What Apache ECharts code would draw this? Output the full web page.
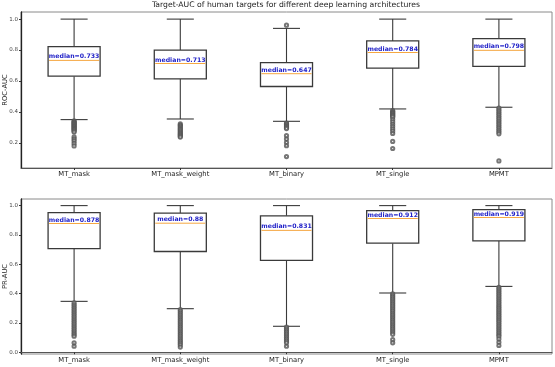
<!DOCTYPE html>
<html>
<head>
<meta charset="utf-8">
<script src="https://cdn.jsdelivr.net/npm/echarts@6/dist/echarts.min.js"></script>
<style>
  html, body { margin: 0; padding: 0; background: #fff; }
  #chart { width: 555px; height: 367px; }
</style>
</head>
<body>
<div id="chart"></div>
<script>
const categories = ['MT_mask', 'MT_mask_weight', 'MT_binary', 'MT_single', 'MPMT'];
const titleText = 'Target-AUC of human targets for different deep learning architectures';

// ROC-AUC box stats
const rocLow  = [0.350, 0.354, 0.339, 0.419, 0.430];
const rocQ1   = [0.631, 0.614, 0.564, 0.683, 0.694];
const rocMed  = [0.733, 0.713, 0.647, 0.784, 0.798];
const rocQ3   = [0.822, 0.800, 0.718, 0.859, 0.874];
const rocHigh = [1.000, 1.000, 0.940, 1.000, 1.000];

// ROC-AUC outliers per category
const rocOut = [
  [0.342, 0.337, 0.332, 0.327, 0.322, 0.317, 0.312, 0.307, 0.302, 0.297, 0.292, 0.287, 0.282, 0.276, 0.270, 0.238, 0.225, 0.212, 0.196, 0.180],
  [0.322, 0.315, 0.308, 0.300, 0.292, 0.285, 0.278, 0.270, 0.263, 0.256, 0.250, 0.243, 0.237],
  [0.961, 0.328, 0.322, 0.316, 0.310, 0.304, 0.298, 0.292, 0.246, 0.224, 0.202, 0.181, 0.111],
  [0.408, 0.402, 0.396, 0.390, 0.384, 0.378, 0.372, 0.366, 0.350, 0.335, 0.320, 0.305, 0.290, 0.275, 0.260, 0.209, 0.163],
  [0.425, 0.413, 0.401, 0.389, 0.377, 0.365, 0.353, 0.341, 0.329, 0.317, 0.305, 0.293, 0.281, 0.270, 0.258, 0.083]
];

// PR-AUC box stats
const prLow  = [0.347, 0.297, 0.177, 0.404, 0.449];
const prQ1   = [0.707, 0.687, 0.626, 0.744, 0.760];
const prMed  = [0.878, 0.88, 0.831, 0.912, 0.919];
const prQ3   = [0.952, 0.948, 0.930, 0.966, 0.973];
const prHigh = [1.000, 1.000, 1.000, 1.000, 1.000];

// PR-AUC outliers per category
const prOut = [
  [0.336, 0.324, 0.312, 0.300, 0.288, 0.276, 0.264, 0.252, 0.240, 0.228, 0.216, 0.204, 0.192, 0.180, 0.168, 0.156, 0.144, 0.132, 0.120, 0.109, 0.064, 0.041],
  [0.290, 0.278, 0.266, 0.254, 0.242, 0.230, 0.218, 0.206, 0.194, 0.182, 0.170, 0.158, 0.146, 0.134, 0.122, 0.110, 0.098, 0.086, 0.074, 0.062, 0.050, 0.035],
  [0.172, 0.160, 0.148, 0.136, 0.124, 0.112, 0.100, 0.088, 0.076, 0.064, 0.041],
  [0.398, 0.386, 0.374, 0.362, 0.350, 0.338, 0.326, 0.314, 0.302, 0.290, 0.278, 0.266, 0.254, 0.242, 0.230, 0.218, 0.206, 0.194, 0.182, 0.170, 0.158, 0.146, 0.134, 0.122, 0.086, 0.064],
  [0.443, 0.431, 0.419, 0.407, 0.395, 0.383, 0.371, 0.359, 0.347, 0.335, 0.323, 0.311, 0.299, 0.287, 0.275, 0.263, 0.251, 0.239, 0.227, 0.215, 0.203, 0.191, 0.179, 0.167, 0.155, 0.143, 0.131, 0.119, 0.109, 0.091, 0.068, 0.046]
];

const rocTicks = [0.2, 0.4, 0.6, 0.8, 1.0];
const prTicks = [0.0, 0.2, 0.4, 0.6, 0.8, 1.0];

const boxRows = (lo, q1, md, q3, hi) => categories.map((c, i) => [i, lo[i], q1[i], md[i], q3[i], hi[i]]);
const outRows = (out) => out.flatMap((vals, i) => vals.map(v => [i, v]));

function renderBox(params, api) {
  const x = api.value(0);
  const lo = api.coord([x, api.value(1)]);
  const q1 = api.coord([x, api.value(2)]);
  const md = api.coord([x, api.value(3)]);
  const q3 = api.coord([x, api.value(4)]);
  const hi = api.coord([x, api.value(5)]);
  const band = api.size([1, 0])[0];
  const bw = band * 0.49;
  const cw = bw * 0.52;
  const cx = md[0];
  const line = (x1, y1, x2, y2, color, w) => ({
    type: 'line',
    shape: { x1: x1, y1: y1, x2: x2, y2: y2 },
    style: { stroke: color || '#3a3a3a', lineWidth: w || 1.1 }
  });
  return {
    type: 'group',
    children: [
      line(cx, lo[1], cx, q1[1]),
      line(cx, q3[1], cx, hi[1]),
      line(cx - cw / 2, lo[1], cx + cw / 2, lo[1]),
      line(cx - cw / 2, hi[1], cx + cw / 2, hi[1]),
      {
        type: 'rect',
        shape: { x: cx - bw / 2, y: q3[1], width: bw, height: q1[1] - q3[1] },
        style: { fill: '#fff', stroke: '#3a3a3a', lineWidth: 1.3 }
      },
      line(cx - bw / 2 + 1, md[1], cx + bw / 2 - 1, md[1], '#f5a742', 1),
      {
        type: 'text',
        style: {
          text: 'median=' + api.value(3),
          x: cx, y: md[1] - 0.5,
          align: 'center', verticalAlign: 'bottom',
          fill: '#2323c8',
          font: 'bold 6.2px "DejaVu Sans", sans-serif'
        }
      }
    ]
  };
}

const xAxisBase = {
  type: 'category',
  data: categories,
  boundaryGap: true,
  axisLine: { show: true, lineStyle: { color: '#555', width: 1 } },
  axisTick: { show: true, alignWithLabel: true, length: 2, lineStyle: { color: '#333' } },
  axisLabel: { color: '#222', fontSize: 6.8, margin: 3, fontFamily: 'DejaVu Sans' },
  splitLine: { show: false }
};

const yAxisBase = {
  type: 'value',
  nameLocation: 'middle',
  nameRotate: 90,
  nameGap: 12,
  nameMoveOverlap: false,
  nameTextStyle: { color: '#222', fontSize: 6.8, fontFamily: 'DejaVu Sans' },
  axisLine: { show: true, lineStyle: { color: '#222', width: 1.3 } },
  axisTick: { show: true, length: 2, lineStyle: { color: '#333' } },
  axisLabel: { color: '#444', fontSize: 5.5, margin: 3, fontFamily: 'DejaVu Sans', formatter: v => v.toFixed(1) },
  splitLine: { show: false }
};

const chart = echarts.init(document.getElementById('chart'));
chart.setOption({
  animation: false,
  backgroundColor: '#fff',
  title: {
    text: titleText,
    left: 286, top: 1, textAlign: 'center', padding: 0,
    textStyle: { fontSize: 7.7, fontWeight: 'normal', color: '#222', fontFamily: 'DejaVu Sans' }
  },
  grid: [
    { left: 21, right: 3, top: 12, height: 156, show: true, borderColor: '#8a8a8a', borderWidth: 1, backgroundColor: 'transparent', containLabel: false, outerBoundsMode: 'none' },
    { left: 21, right: 3, top: 199, height: 155, show: true, borderColor: '#8a8a8a', borderWidth: 1, backgroundColor: 'transparent', containLabel: false, outerBoundsMode: 'none' }
  ],
  xAxis: [
    Object.assign({}, xAxisBase, { gridIndex: 0 }),
    Object.assign({}, xAxisBase, { gridIndex: 1 })
  ],
  yAxis: [
    Object.assign({}, yAxisBase, {
      gridIndex: 0, name: 'ROC-AUC', min: 0.037, max: 1.046,
      axisTick: Object.assign({}, yAxisBase.axisTick, { customValues: rocTicks }),
      axisLabel: Object.assign({}, yAxisBase.axisLabel, { customValues: rocTicks })
    }),
    Object.assign({}, yAxisBase, {
      gridIndex: 1, name: 'PR-AUC', min: -0.012, max: 1.045,
      axisTick: Object.assign({}, yAxisBase.axisTick, { customValues: prTicks }),
      axisLabel: Object.assign({}, yAxisBase.axisLabel, { customValues: prTicks })
    })
  ],
  series: [
    {
      type: 'custom', xAxisIndex: 0, yAxisIndex: 0,
      renderItem: renderBox,
      encode: { x: 0, y: [1, 2, 3, 4, 5] },
      data: boxRows(rocLow, rocQ1, rocMed, rocQ3, rocHigh)
    },
    {
      type: 'scatter', xAxisIndex: 0, yAxisIndex: 0,
      symbol: 'emptyCircle', symbolSize: 3.2,
      itemStyle: { color: '#555', borderColor: '#555', borderWidth: 0.6 },
      data: outRows(rocOut)
    },
    {
      type: 'custom', xAxisIndex: 1, yAxisIndex: 1,
      renderItem: renderBox,
      encode: { x: 0, y: [1, 2, 3, 4, 5] },
      data: boxRows(prLow, prQ1, prMed, prQ3, prHigh)
    },
    {
      type: 'scatter', xAxisIndex: 1, yAxisIndex: 1,
      symbol: 'emptyCircle', symbolSize: 3.2,
      itemStyle: { color: '#555', borderColor: '#555', borderWidth: 0.6 },
      data: outRows(prOut)
    }
  ]
});
</script>
</body>
</html>
